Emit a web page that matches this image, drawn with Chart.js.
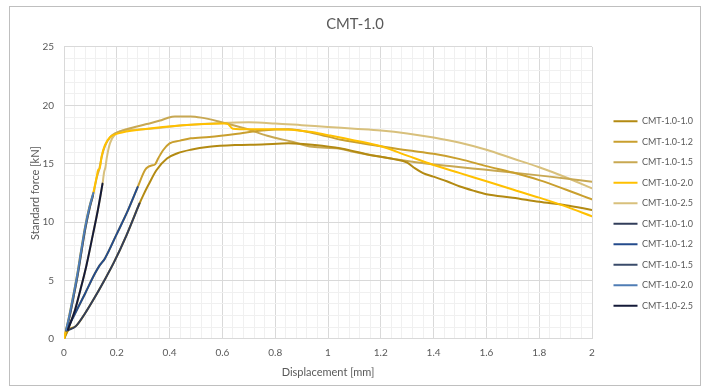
<!DOCTYPE html>
<html>
<head>
<meta charset="utf-8">
<title>CMT-1.0</title>
<script src="https://cdn.jsdelivr.net/npm/chart.js@4/dist/chart.umd.min.js"></script>
<style>
  html, body { margin: 0; padding: 0; background: #ffffff; }
  #wrap { width: 710px; height: 392px; position: relative; }
</style>
</head>
<body>
<div id="wrap"><canvas id="chart" width="710" height="392"></canvas></div>
<script>
// ---- Axis tick labels ----
const xTickLabels = ['0', '0.2', '0.4', '0.6', '0.8', '1', '1.2', '1.4', '1.6', '1.8', '2'];
const yTickLabels = ['0', '5', '10', '15', '20', '25'];

// ---- Series names ----
const specimens = ['CMT-1.0-1.0', 'CMT-1.0-1.2', 'CMT-1.0-1.5', 'CMT-1.0-2.0', 'CMT-1.0-2.5'];

// ---- Elastic (initial) part of each test: displacement [mm], force [kN] ----
const blueDisp10  = [0.016, 0.045, 0.08, 0.115, 0.15, 0.19, 0.237, 0.286];
const blueForce10 = [0.75, 1.1, 2.2, 3.5, 4.9, 6.6, 8.9, 11.6];

const blueDisp12  = [0.01, 0.04, 0.08, 0.117, 0.135, 0.155, 0.2, 0.24, 0.279];
const blueForce12 = [0.75, 2.1, 3.9, 5.6, 6.3, 6.9, 9.0, 10.9, 13.0];

const blueDisp15  = [0.008, 0.022, 0.037, 0.052, 0.067, 0.082, 0.097, 0.11];
const blueForce15 = [0.7, 2.0, 3.7, 5.5, 7.6, 9.6, 11.2, 12.3];

const blueDisp20  = [0.008, 0.02, 0.035, 0.05, 0.065, 0.08, 0.095, 0.111];
const blueForce20 = [0.8, 2.0, 3.7, 5.5, 7.6, 9.6, 11.2, 12.5];

const blueDisp25  = [0.015, 0.042, 0.062, 0.085, 0.11, 0.128, 0.146];
const blueForce25 = [0.8, 2.5, 4.2, 6.3, 9.0, 11.0, 13.3];

// ---- Remaining part of each test up to 2 mm ----
const goldDisp10  = [0.30, 0.32, 0.35, 0.39, 0.43, 0.48, 0.55, 0.65, 0.75, 0.85, 0.95, 1.05, 1.15, 1.25, 1.30, 1.33, 1.36, 1.40, 1.45, 1.50, 1.55, 1.60, 1.70, 1.80, 1.90, 2.00];
const goldForce10 = [12.3, 13.2, 14.45, 15.45, 15.9, 16.2, 16.45, 16.6, 16.65, 16.75, 16.6, 16.3, 15.8, 15.4, 15.1, 14.6, 14.2, 13.9, 13.5, 13.05, 12.7, 12.4, 12.1, 11.75, 11.45, 11.05];

const goldDisp12  = [0.307, 0.32, 0.332, 0.345, 0.357, 0.376, 0.40, 0.44, 0.48, 0.55, 0.65, 0.75, 0.85, 0.95, 1.05, 1.2, 1.3, 1.4, 1.5, 1.6, 1.7, 1.8, 1.9, 2.0];
const goldForce12 = [14.47, 14.75, 14.85, 14.95, 15.47, 16.18, 16.75, 16.98, 17.18, 17.3, 17.55, 17.85, 17.95, 17.6, 17.05, 16.5, 16.15, 15.85, 15.4, 14.8, 14.25, 13.6, 12.8, 11.95];

const goldDisp15  = [0.124, 0.134, 0.143, 0.155, 0.174, 0.193, 0.237, 0.313, 0.364, 0.389, 0.42, 0.48, 0.52, 0.59, 0.69, 0.77, 0.86, 0.94, 1.04, 1.1, 1.21, 1.34, 1.46, 1.59, 1.72, 1.84, 2.0];
const goldForce15 = [13.8, 14.6, 15.6, 16.5, 17.25, 17.6, 17.95, 18.4, 18.7, 18.9, 19.05, 19.05, 18.95, 18.6, 18.0, 17.4, 16.9, 16.45, 16.3, 16.0, 15.55, 15.1, 14.8, 14.5, 14.2, 13.9, 13.47];

const goldDisp20  = [0.124, 0.13, 0.134, 0.143, 0.155, 0.174, 0.206, 0.3, 0.45, 0.6, 0.617, 0.64, 0.7, 0.8, 0.93, 1.0, 1.1, 1.2, 1.3, 1.4, 1.5, 1.6, 1.7, 1.8, 1.9, 2.0];
const goldForce20 = [13.9, 14.5, 14.5, 15.7, 16.6, 17.27, 17.6, 17.95, 18.3, 18.45, 18.45, 18.0, 17.95, 17.95, 17.75, 17.45, 17.0, 16.5, 15.7, 14.9, 14.2, 13.5, 12.8, 12.1, 11.35, 10.5];

const goldDisp25  = [0.152, 0.157, 0.162, 0.174, 0.193, 0.237, 0.3, 0.45, 0.6, 0.7, 0.8, 0.9, 1.0, 1.1, 1.2, 1.3, 1.4, 1.5, 1.6, 1.7, 1.8, 1.9, 2.0];
const goldForce25 = [14.3, 14.7, 15.5, 16.75, 17.5, 17.9, 17.95, 18.3, 18.5, 18.55, 18.45, 18.3, 18.15, 18.0, 17.85, 17.6, 17.25, 16.8, 16.2, 15.45, 14.7, 13.85, 12.9];

// ---- Line colours ----
const goldColors = ['#B38A12', '#C99F2E', '#C8A852', '#FFC000', '#D8C07C'];
const blueColors = ['#323E5A', '#244B8C', '#3A4B6A', '#4F7DB5', '#141A38'];

function points(xs, ys) {
  return xs.map((x, i) => ({ x: x, y: ys[i] }));
}

const blueParts = [
  [blueDisp10, blueForce10], [blueDisp12, blueForce12], [blueDisp15, blueForce15],
  [blueDisp20, blueForce20], [blueDisp25, blueForce25]
];
const goldParts = [
  [goldDisp10, goldForce10], [goldDisp12, goldForce12], [goldDisp15, goldForce15],
  [goldDisp20, goldForce20], [goldDisp25, goldForce25]
];

const datasets = [];
// full curves from the origin (drawn underneath the elastic segments)
specimens.forEach((name, i) => {
  const xs = [0].concat(blueParts[i][0], goldParts[i][0]);
  const ys = [0].concat(blueParts[i][1], goldParts[i][1]);
  datasets.push({
    label: name,
    data: points(xs, ys),
    borderColor: goldColors[i],
    backgroundColor: goldColors[i],
    borderWidth: 2,
    order: i === 3 ? 1 : 2
  });
});
// elastic segments, later specimens on top
specimens.forEach((name, i) => {
  datasets.push({
    label: name,
    data: points(blueParts[i][0], blueParts[i][1]),
    borderColor: blueColors[i],
    backgroundColor: blueColors[i],
    borderWidth: 2,
    order: -i
  });
});

const FONT = 'Lato, "Open Sans", "Liberation Sans", sans-serif';
const TXT = '#595959';

// white page with a thin outline around the chart
const frame = {
  id: 'frame',
  beforeDraw(chart) {
    const ctx = chart.ctx;
    ctx.save();
    ctx.fillStyle = '#ffffff';
    ctx.fillRect(0, 0, chart.width, chart.height);
    ctx.restore();
  },
  afterDraw(chart) {
    const ctx = chart.ctx;
    ctx.save();
    ctx.strokeStyle = '#BFBFBF';
    ctx.lineWidth = 1;
    ctx.strokeRect(9.5, 6.5, 691, 379);
    ctx.restore();
  }
};

// fixed legend column on the right
const legendPlacement = {
  id: 'legendPlacement',
  beforeUpdate(chart) {
    const lg = chart.legend;
    if (lg && !lg._fixedFit) {
      const fit = lg.fit.bind(lg);
      lg.fit = function () { fit(); this.width = 118; };
      lg._fixedFit = true;
    }
  },
  afterLayout(chart) {
    const lg = chart.legend;
    if (!lg) return;
    lg.left += 10; lg.right += 10;
    lg.top += 17.5; lg.bottom += 17.5;
  }
};

new Chart(document.getElementById('chart'), {
  type: 'line',
  data: { datasets: datasets },
  options: {
    responsive: false,
    animation: false,
    layout: { padding: 0 },
    elements: {
      point: { radius: 0, hoverRadius: 0 },
      line: { tension: 0, cubicInterpolationMode: 'monotone', borderCapStyle: 'round', borderJoinStyle: 'round' }
    },
    plugins: {
      title: {
        display: true,
        text: 'CMT-1.0',
        color: TXT,
        font: { family: FONT, size: 14.8, weight: 'normal', lineHeight: 1.2 },
        padding: { top: 15.2, bottom: 14 }
      },
      legend: {
        position: 'right',
        align: 'center',
        labels: {
          usePointStyle: true,
          pointStyle: 'line',
          pointStyleWidth: 24,
          color: TXT,
          font: { family: FONT, size: 9 },
          padding: 11.5,
          sort: (a, b) => a.datasetIndex - b.datasetIndex
        }
      },
      tooltip: { enabled: false }
    },
    scales: {
      x: {
        type: 'linear',
        min: 0,
        max: 2,
        afterBuildTicks(scale) {
          const t = [];
          for (let i = 0; i <= 50; i++) t.push({ value: i * 0.04 });
          scale.ticks = t;
        },
        afterFit(scale) { scale.height = 53; },
        ticks: {
          autoSkip: false,
          maxRotation: 0,
          padding: 8,
          color: TXT,
          font: { family: FONT, size: 10 },
          callback: (v, idx) => (idx % 5 === 0 ? xTickLabels[idx / 5] : '')
        },
        grid: {
          drawTicks: false,
          color: (c) => (c.index % 5 === 0 ? '#D9D9D9' : '#F0F0F0'),
          lineWidth: 1
        },
        border: { display: true, color: '#D9D9D9' },
        title: {
          display: true,
          text: 'Displacement [mm]',
          color: TXT,
          font: { family: FONT, size: 11, lineHeight: 1.2 },
          padding: { top: 0, bottom: 13.4 }
        }
      },
      y: {
        type: 'linear',
        min: 0,
        max: 25,
        afterBuildTicks(scale) {
          const t = [];
          for (let i = 0; i <= 25; i++) t.push({ value: i });
          scale.ticks = t;
        },
        afterFit(scale) { scale.width = 64; },
        ticks: {
          autoSkip: false,
          padding: 10,
          color: TXT,
          font: { family: FONT, size: 10 },
          callback: (v, idx) => (idx % 5 === 0 ? yTickLabels[idx / 5] : '')
        },
        grid: {
          drawTicks: false,
          color: (c) => (c.index % 5 === 0 ? '#D9D9D9' : '#F0F0F0'),
          lineWidth: 1
        },
        border: { display: true, color: '#D9D9D9' },
        title: {
          display: true,
          text: 'Standard force [kN]',
          color: TXT,
          font: { family: FONT, size: 11, lineHeight: 1.2 },
          padding: { top: 28.4, bottom: 0 }
        }
      }
    }
  },
  plugins: [frame, legendPlacement]
});
</script>
</body>
</html>
